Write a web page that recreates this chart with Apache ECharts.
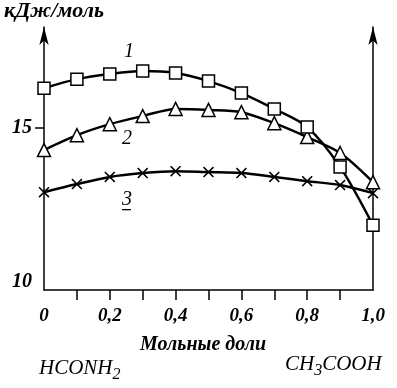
<!DOCTYPE html>
<html>
<head>
<meta charset="utf-8">
<script src="https://cdn.jsdelivr.net/npm/echarts@6/dist/echarts.min.js"></script>
<style>
  html, body { margin: 0; padding: 0; background: #fff; }
  #chart { width: 397px; height: 388px; }
</style>
</head>
<body>
<div id="chart"></div>
<script>
// мольные доли CH3COOH
var fractions = [0, 0.1, 0.2, 0.3, 0.4, 0.5, 0.6, 0.7, 0.8, 0.9, 1.0];
// кривые 1, 2, 3 (кДж/моль)
var curve1 = [16.23, 16.51, 16.67, 16.76, 16.70, 16.45, 16.08, 15.59, 15.03, 13.80, 12.0];
var curve2 = [14.32, 14.78, 15.12, 15.37, 15.59, 15.56, 15.49, 15.15, 14.72, 14.23, 13.33];
var curve3 = [13.02, 13.27, 13.49, 13.61, 13.67, 13.64, 13.61, 13.49, 13.36, 13.24, 12.99];
var xLabelValues = [0, 0.2, 0.4, 0.6, 0.8, 1.0];
var xTickValues = [0.1, 0.2, 0.3, 0.4, 0.5, 0.6, 0.7, 0.8, 0.9];
var yLabelValues = [10, 15];
var yTickValues = [15];

function pairs(ys) {
    return fractions.map(function (x, i) { return [x, ys[i]]; });
}

var serif = 'Liberation Serif';
var crossPath = 'path://M0,1L1,0L5,4L9,0L10,1L6,5L10,9L9,10L5,6L1,10L0,9L4,5Z';

var myChart = echarts.init(document.getElementById('chart'));
var option = {
    animation: false,
    grid: { left: 44, right: 24, top: 27, bottom: 98 },
    xAxis: {
        type: 'value',
        min: 0,
        max: 1,
        interval: 0.1,
        splitLine: { show: false },
        axisLine: { lineStyle: { color: '#000', width: 1.5 } },
        axisTick: { customValues: xTickValues, length: 10, lineStyle: { color: '#000', width: 1.5 } },
        axisLabel: {
            customValues: xLabelValues,
            margin: 17,
            color: '#000',
            fontFamily: serif,
            fontStyle: 'italic',
            fontWeight: 'bold',
            fontSize: 19,
            formatter: function (v) {
                return v === 0 ? '0' : v.toFixed(1).replace('.', ',');
            }
        }
    },
    yAxis: [
        {
            type: 'value',
            min: 10,
            max: 18.12,
            interval: 5,
            splitLine: { show: false },
            axisLine: { symbol: ['none', 'arrow'], symbolSize: [7, 18], lineStyle: { color: '#000', width: 1.5 } },
            axisTick: { customValues: yTickValues, length: 9, lineStyle: { color: '#000', width: 1.5 } },
            axisLabel: {
                customValues: yLabelValues,
                margin: 12,
                color: '#000',
                fontFamily: serif,
                fontStyle: 'italic',
                fontWeight: 'bold',
                fontSize: 20,
                formatter: function (v) { return v === 10 ? '{lo|10}' : '{n|' + v + '}'; },
                rich: {
                    lo: { fontFamily: serif, fontStyle: 'italic', fontWeight: 'bold', fontSize: 20, padding: [0, 0, 16, 0] },
                    n: { fontFamily: serif, fontStyle: 'italic', fontWeight: 'bold', fontSize: 20 }
                }
            }
        },
        {
            type: 'value',
            position: 'right',
            min: 10,
            max: 18.12,
            splitLine: { show: false },
            axisLine: { show: true, symbol: ['none', 'arrow'], symbolSize: [7, 18], lineStyle: { color: '#000', width: 1.5 } },
            axisTick: { show: false },
            axisLabel: { show: false }
        }
    ],
    series: [
        {
            name: '3',
            type: 'line',
            data: pairs(curve3),
            smooth: 0.3,
            symbol: crossPath,
            symbolSize: 11,
            itemStyle: { color: '#000' },
            lineStyle: { color: '#000', width: 2.5 }
        },
        {
            name: '2',
            type: 'line',
            data: pairs(curve2),
            smooth: 0.3,
            symbol: 'triangle',
            symbolSize: 13,
            itemStyle: { color: '#fff', borderColor: '#000', borderWidth: 1.5 },
            lineStyle: { color: '#000', width: 2.5 }
        },
        {
            name: '1',
            type: 'line',
            data: pairs(curve1),
            smooth: 0.3,
            symbol: 'rect',
            symbolSize: 12,
            itemStyle: { color: '#fff', borderColor: '#000', borderWidth: 1.5 },
            lineStyle: { color: '#000', width: 2.5 }
        }
    ],
    graphic: [
        { type: 'text', left: 4, top: 0, style: { text: 'кДж/моль', font: 'italic bold 22px "Liberation Serif"', fill: '#000' } },
        { type: 'text', left: 124, top: 42, style: { text: '1', font: 'italic 20px "Liberation Serif"', fill: '#000' } },
        { type: 'text', left: 122, top: 129, style: { text: '2', font: 'italic 20px "Liberation Serif"', fill: '#000' } },
        { type: 'text', left: 122, top: 190, style: { text: '3', font: 'italic 20px "Liberation Serif"', fill: '#000' } },
        { type: 'rect', shape: { x: 122, y: 209, width: 9, height: 1.3 }, style: { fill: '#000' } },
        { type: 'text', left: 140, top: 335, style: { text: 'Мольные доли', font: 'italic bold 20px "Liberation Serif"', fill: '#000' } },
        {
            type: 'text', left: 39, top: 358,
            style: {
                text: '{a|HCONH}{s|2}',
                rich: {
                    a: { font: 'italic 21px "Liberation Serif"', fill: '#000' },
                    s: { font: 'italic 16px "Liberation Serif"', fill: '#000', padding: [12, 0, 0, 0] }
                }
            }
        },
        {
            type: 'text', left: 285, top: 354,
            style: {
                text: '{a|CH}{s|3}{a|COOH}',
                rich: {
                    a: { font: 'italic 21px "Liberation Serif"', fill: '#000' },
                    s: { font: 'italic 16px "Liberation Serif"', fill: '#000', padding: [12, 0, 0, 0] }
                }
            }
        }
    ]
};
myChart.setOption(option);
</script>
</body>
</html>
